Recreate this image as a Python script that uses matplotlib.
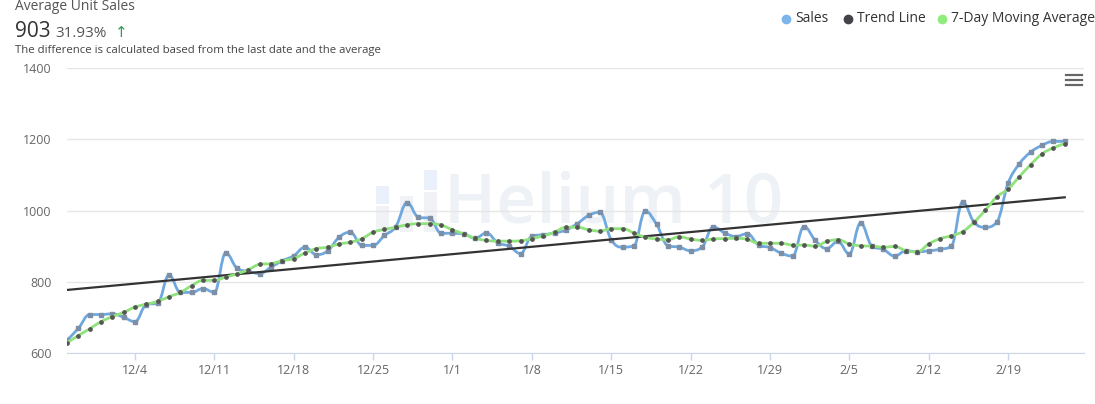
import matplotlib
matplotlib.use('Agg')
import matplotlib.pyplot as plt
import matplotlib.dates as mdates
from matplotlib.path import Path
from matplotlib.patches import PathPatch, Rectangle
from matplotlib.lines import Line2D
import numpy as np

# daily dates shown on the chart
startDate = '2021-11-28'
endDate = '2022-02-25'

sales = [636, 669, 708, 708, 710, 700, 688, 736, 740, 819,
         770, 770, 781, 770, 881, 838, 829, 823, 841, 859,
         873, 897, 876, 887, 925, 939, 902, 902, 930, 955,
         1022, 981, 978, 936, 936, 934, 922, 937, 909, 900,
         879, 928, 932, 937, 945, 963, 986, 995, 918, 897,
         901, 998, 961, 901, 897, 887, 897, 954, 937, 927,
         935, 903, 896, 880, 872, 955, 916, 893, 913, 878,
         965, 900, 891, 872, 887, 884, 887, 891, 900, 1024,
         967, 953, 967, 1076, 1131, 1164, 1183, 1194, 1194]

movingAvg = [629, 649, 668, 688, 702, 714, 729, 737, 745, 758,
             770, 789, 804, 804, 813, 822, 834, 849, 851, 859,
             865, 881, 893, 897, 906, 911, 921, 939, 947, 953,
             960, 963, 963, 959, 946, 934, 922, 916, 914, 914,
             915, 921, 929, 939, 953, 953, 946, 942, 949, 949,
             937, 925, 920, 918, 926, 920, 916, 920, 921, 922,
             919, 908, 908, 908, 903, 903, 900, 913, 918, 906,
             901, 900, 897, 899, 887, 884, 906, 921, 929, 941,
             967, 1001, 1038, 1060, 1095, 1129, 1159, 1176, 1188]

trendEnds = [777, 1037]

tickDates = ['2021-12-04', '2021-12-11', '2021-12-18', '2021-12-25', '2022-01-01',
             '2022-01-08', '2022-01-15', '2022-01-22', '2022-01-29', '2022-02-05',
             '2022-02-12', '2022-02-19']
tickLabels = ['12/4', '12/11', '12/18', '12/25', '1/1', '1/8', '1/15', '1/22',
              '1/29', '2/5', '2/12', '2/19']
yTicks = [600, 800, 1000, 1200, 1400]

seriesNames = ['Sales', 'Trend Line', '7-Day Moving Average']
seriesColors = ['#7cb5ec', '#434348', '#90ed7d']

plt.rcParams['font.family'] = ['Open Sans', 'DejaVu Sans']

W, H = 1095, 404


def px(x, y):
  return (x / W, 1 - y / H)


def splinePath(xs, ys, smoothing=1.5):
  # same control point rule as a highcharts spline
  denom = smoothing + 1.
  n = len(xs)
  leftCont = [(xs[i], ys[i]) for i in range(n)]
  rightCont = [(xs[i], ys[i]) for i in range(n)]
  for i in range(1, n - 1):
    lastX, lastY = xs[i - 1], ys[i - 1]
    nextX, nextY = xs[i + 1], ys[i + 1]
    plotX, plotY = xs[i], ys[i]
    lcx = (smoothing * plotX + lastX) / denom
    lcy = (smoothing * plotY + lastY) / denom
    rcx = (smoothing * plotX + nextX) / denom
    rcy = (smoothing * plotY + nextY) / denom
    correction = 0.
    if rcx != lcx:
      correction = ((rcy - lcy) * (rcx - plotX)) / (rcx - lcx) + plotY - rcy
    lcy += correction
    rcy += correction
    if lcy > lastY and lcy > plotY:
      lcy = max(lastY, plotY)
      rcy = 2 * plotY - lcy
    elif lcy < lastY and lcy < plotY:
      lcy = min(lastY, plotY)
      rcy = 2 * plotY - lcy
    if rcy > nextY and rcy > plotY:
      rcy = max(nextY, plotY)
      lcy = 2 * plotY - rcy
    elif rcy < nextY and rcy < plotY:
      rcy = min(nextY, plotY)
      lcy = 2 * plotY - rcy
    leftCont[i] = (lcx, lcy)
    rightCont[i] = (rcx, rcy)
  verts = [(xs[0], ys[0])]
  codes = [Path.MOVETO]
  for i in range(1, n):
    verts += [rightCont[i - 1], leftCont[i], (xs[i], ys[i])]
    codes += [Path.CURVE4] * 3
  return Path(verts, codes)


dates = np.arange(np.datetime64(startDate), np.datetime64(endDate))
x = mdates.date2num(dates.astype('datetime64[D]').tolist())

fig = plt.figure(figsize=(W / 100, H / 100), dpi=100)
ax = fig.add_axes([67 / W, 1 - 353 / H, (1084 - 67) / W, (353 - 68) / H])
ax.set_zorder(2)
ax.set_facecolor('none')

# watermark (behind the axes)
fig.text(*px(614, 205), 'Helium 10', fontsize=50, color='#eef1f5', ha='center', va='center',
         family='Open Sans', weight='semibold', zorder=-2)
for (rx, ry, rw, rh, rc) in [(376, 186, 13, 18, '#eaf1fa'), (376, 206, 13, 26, '#f0f2f5'),
                             (400, 196, 13, 36, '#f0f2f5'), (424, 170, 13, 20, '#eaf1fa'),
                             (424, 192, 13, 40, '#f0f2f5')]:
  fig.patches.append(Rectangle(px(rx, ry + rh), rw / W, rh / H, transform=fig.transFigure,
                               facecolor=rc, edgecolor='none', zorder=-2))

ax.add_patch(PathPatch(splinePath(x, sales), facecolor='none', edgecolor='#6fa8de', lw=2, zorder=2))
ax.plot(x, sales, linestyle='none', marker='s', ms=3.3, color='#7d8fa6', zorder=2.5)

ax.plot([x[0], x[-1]], trendEnds, color='#333333', lw=1.6, zorder=3)

ax.add_patch(PathPatch(splinePath(x, movingAvg), facecolor='none', edgecolor='#90e27d', lw=2, zorder=4))
ax.plot(x, movingAvg, linestyle='none', marker='o', ms=2.4, color='#555555', zorder=4.5)

ax.set_xlim(x[0], x[0] + 89.7)
ax.set_ylim(600, 1400)
ax.set_yticks(yTicks)
ax.set_yticklabels([str(v) for v in yTicks])
ax.set_xticks(mdates.date2num([np.datetime64(d).astype('datetime64[D]').tolist() for d in tickDates]))
ax.set_xticklabels(tickLabels)
ax.grid(axis='y', color='#e6e6e6', lw=1)
ax.set_axisbelow(True)
for s in ['top', 'right', 'left']:
  ax.spines[s].set_visible(False)
ax.spines['bottom'].set_color('#ccd6eb')
ax.tick_params(axis='y', length=0, pad=11, labelsize=9, labelcolor='#666666')
ax.tick_params(axis='x', length=5, width=1, color='#ccd6eb', pad=3, labelsize=9, labelcolor='#666666')

# header texts
fig.text(*px(15, 7), 'Average Unit Sales', fontsize=10, color='#555555', va='center')
fig.text(*px(15, 37), '903', fontsize=15, color='#333333', va='baseline')
fig.text(*px(55, 37), '31.93%', fontsize=11, color='#555555', va='baseline')
fig.text(*px(115, 37), '\u2191', fontsize=11, color='#2e9e5b', va='baseline', family='DejaVu Sans')
fig.text(*px(15, 50), 'The difference is calculated based from the last date and the average',
         fontsize=8.2, color='#444444', va='center')

# legend
legendDots = [786, 848, 942]
for name, col, lx in zip(seriesNames, seriesColors, legendDots):
  fig.add_artist(Line2D([lx / W], [1 - 19 / H], marker='o', ms=6, color=col, linestyle='none',
                        transform=fig.transFigure))
  fig.text(*px(lx + 9, 19), name, fontsize=10, color='#333333', va='center')

# menu icon
for my in [75, 80, 85]:
  fig.add_artist(Line2D([1066 / W, 1082 / W], [1 - my / H] * 2, color='#666666', lw=1.6,
                        transform=fig.transFigure))

plt.savefig('out.png', dpi=100)
plt.close('all')
